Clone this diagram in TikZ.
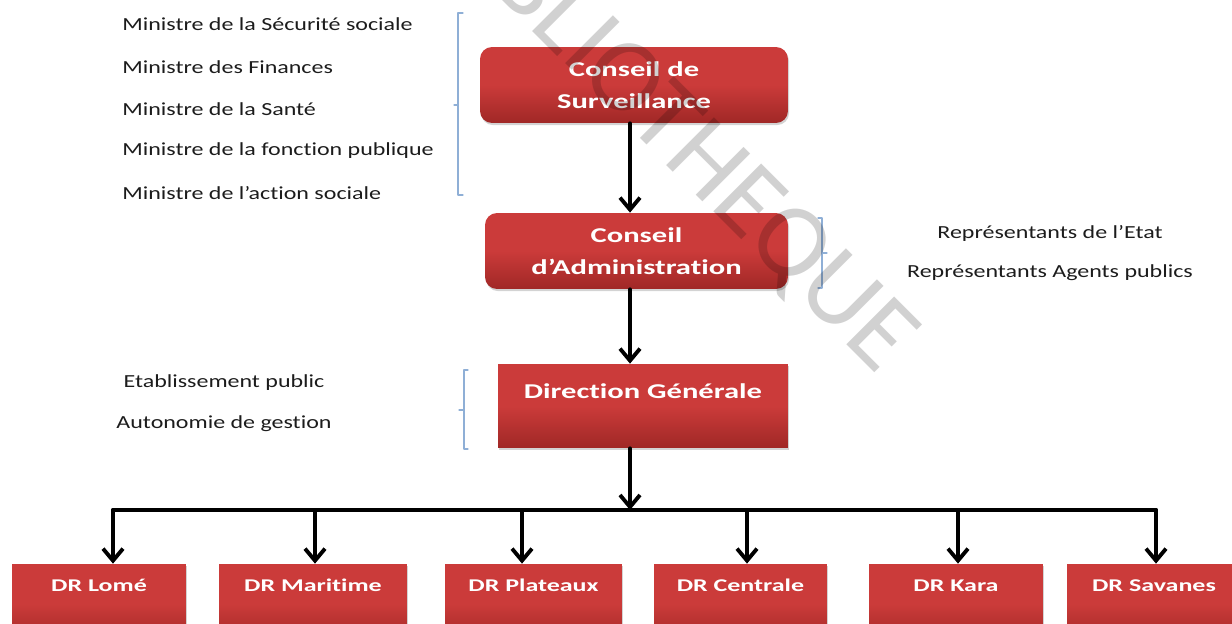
\documentclass[tikz,border=0pt]{standalone}
\usepackage{fontspec}
\setmainfont{Carlito}
\newfontfamily\orglistfont{Carlito}[FakeStretch=1.3,
  Ligatures={NoCommon,NoContextual}, Contextuals=NoAlternate]
\newfontfamily\orgboxfont{Carlito}[FakeStretch=1.45,
  Ligatures={NoCommon,NoContextual}, Contextuals=NoAlternate]
\usepackage{xcolor}
\usepackage{tikz}
\usetikzlibrary{arrows.meta,shadows}
\definecolor{orgRed}{HTML}{CB3B3A}
\definecolor{orgRedDark}{HTML}{A02826}
\definecolor{orgInk}{HTML}{1C1C1C}
\definecolor{orgBracket}{HTML}{8FAFD6}
\tikzset{
  org diagram/.style={x=0.02cm, y=-0.02cm, text=orgInk,
    line cap=round, line join=round},
  org box/.style={draw=none, top color=orgRed, bottom color=orgRedDark,
    middle color=orgRed, text=white, align=center, inner sep=0pt,
    font=\orgboxfont\bfseries\fontsize{12}{18.2}\selectfont,
    drop shadow={shadow xshift=0.6pt, shadow yshift=-1.2pt, opacity=0.35}},
  org round box/.style={org box, rounded corners=2.4mm},
  org region/.style={org box, minimum height=1.6cm,
    font=\orgboxfont\bfseries\fontsize{10.2}{12}\selectfont,
    text height=8pt, text depth=22pt},
  org arrow/.style={-{Straight Barb[length=2.4mm,width=4mm]}, draw=black,
    line width=2.2pt},
  org line/.style={draw=black, line width=2.2pt},
  org label/.style={font=\orglistfont\fontsize{10.5}{12}\selectfont,
    inner xsep=0pt},
  org bracket/.style={draw=orgBracket, line width=0.7pt},
  org stamp/.style={font=\fontsize{60}{60}\selectfont, text=black,
    text opacity=0.18, rotate=-45}
}

\begin{document}
\begin{tikzpicture}[org diagram]
\clip (0,0) rectangle (1232,624);
% main chain
\node[org round box, minimum width=6.16cm, minimum height=1.52cm] (cs) at (634,85) {Conseil de\\Surveillance};
\node[org round box, minimum width=6.06cm, minimum height=1.52cm] (ca) at (636.5,251) {Conseil\\d’Administration};
\node[org box, minimum width=5.8cm, minimum height=1.68cm, text height=8pt, text depth=16pt] (dg) at (643,406) {Direction Générale};
\coordinate (hub) at (630,510);
\draw[org arrow] (hub |- cs.south) -- (hub |- ca.north);
\draw[org arrow] (hub |- ca.south) -- (hub |- dg.north);
\draw[org arrow] (hub |- dg.south) -- (hub);
% regional offices
\node[org region, minimum width=3.48cm] (lome) at (99,604) {DR Lomé};
\node[org region, minimum width=3.76cm] (maritime) at (313,604) {DR Maritime};
\node[org region, minimum width=3.54cm] (plateaux) at (533.5,604) {DR Plateaux};
\node[org region, minimum width=3.46cm] (centrale) at (740.5,604) {DR Centrale};
\node[org region, minimum width=3.48cm] (kara) at (956,604) {DR Kara};
\node[org region, minimum width=3.48cm] (savanes) at (1154,604) {DR Savanes};
\coordinate (to lome) at (113,510);
\coordinate (to maritime) at (315,510);
\coordinate (to plateaux) at (522,510);
\coordinate (to centrale) at (747,510);
\coordinate (to kara) at (958,510);
\coordinate (to savanes) at (1156,510);
\draw[org line] (to lome) -- (to savanes);
\draw[org arrow] (to lome) -- (to lome |- lome.north);
\draw[org arrow] (to maritime) -- (to maritime |- maritime.north);
\draw[org arrow] (to plateaux) -- (to plateaux |- plateaux.north);
\draw[org arrow] (to centrale) -- (to centrale |- centrale.north);
\draw[org arrow] (to kara) -- (to kara |- kara.north);
\draw[org arrow] (to savanes) -- (to savanes |- savanes.north);
% members of each board
\node[org label, anchor=west] (min secu) at (122,24) {Ministre de la Sécurité sociale};
\node[org label, anchor=west] (min fin) at (122,67) {Ministre des Finances};
\node[org label, anchor=west] (min sante) at (122,109) {Ministre de la Santé};
\node[org label, anchor=west] (min fp) at (122,151) {Ministre de la fonction publique};
\node[org label, anchor=west] (min as) at (122,193) {Ministre de l’action sociale};
\draw[org bracket] (463,13) -- (458,13) -- (458,195) -- (463,195);
\draw[org bracket] (458,105) -- (454,105);
\node[org label] (rep etat) at (1050,233) {Représentants de l’Etat};
\node[org label] (rep agents) at (1050,273) {Représentants Agents publics};
\draw[org bracket] (818,218) -- (822,218) -- (822,288) -- (818,288);
\draw[org bracket] (822,253) -- (827,253);
\node[org label] (etab) at (224,383) {Etablissement public};
\node[org label] (autonomie) at (224,424) {Autonomie de gestion};
\draw[org bracket] (468,370) -- (464,370) -- (464,449) -- (468,449);
\draw[org bracket] (464,410) -- (459,410);
% stamp
\node[org stamp] (stamp) at (672,132) {BIBLIOTHEQUE};
\end{tikzpicture}
\end{document}
